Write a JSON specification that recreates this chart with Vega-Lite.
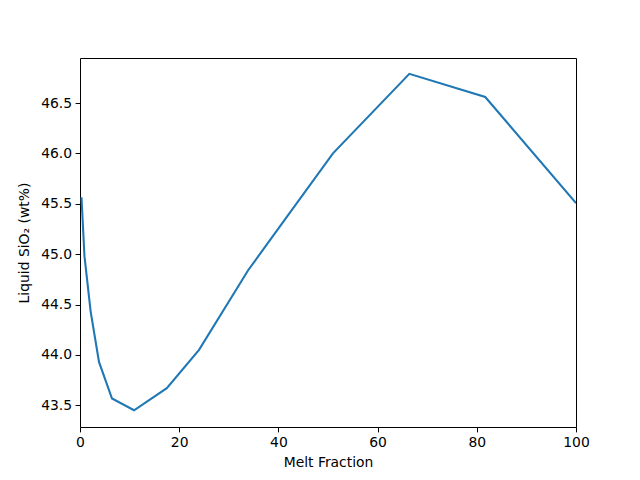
{
  "$schema": "https://vega.github.io/schema/vega-lite/v6.json",
  "width": 496,
  "height": 369,
  "autosize": {"type": "none"},
  "padding": {"left": 80, "top": 58, "right": 64, "bottom": 53},
  "background": "white",
  "config": {
    "font": "DejaVu Sans",
    "view": {"stroke": "black", "strokeWidth": 1},
    "axis": {
      "grid": false,
      "domain": false,
      "tickColor": "black",
      "tickSize": 4.9,
      "tickWidth": 1,
      "labelFont": "DejaVu Sans",
      "labelFontSize": 13.9,
      "labelColor": "black",
      "labelPadding": 3.5,
      "titleFont": "DejaVu Sans",
      "titleFontSize": 13.9,
      "titleFontWeight": "normal",
      "titleColor": "black"
    }
  },
  "data": {
    "values": [
      {"x": 0.3, "y": 45.565},
      {"x": 0.9, "y": 44.98},
      {"x": 2.15, "y": 44.43},
      {"x": 3.83, "y": 43.93},
      {"x": 6.45, "y": 43.567},
      {"x": 10.9, "y": 43.45},
      {"x": 17.5, "y": 43.67},
      {"x": 24.0, "y": 44.05},
      {"x": 33.9, "y": 44.84},
      {"x": 41.7, "y": 45.37},
      {"x": 51.0, "y": 46.0},
      {"x": 66.4, "y": 46.79},
      {"x": 81.7, "y": 46.56},
      {"x": 100.0, "y": 45.506}
    ]
  },
  "mark": {"type": "line", "color": "#1f77b4", "strokeWidth": 2.08, "clip": true},
  "encoding": {
    "x": {
      "field": "x", "type": "quantitative",
      "scale": {"domain": [0, 100], "nice": false, "zero": false},
      "axis": {"values": [0, 20, 40, 60, 80, 100], "title": "Melt Fraction", "titlePadding": 6, "labelFlush": false}
    },
    "y": {
      "field": "y", "type": "quantitative",
      "scale": {"domain": [43.284, 46.947], "nice": false, "zero": false},
      "axis": {"values": [43.5, 44.0, 44.5, 45.0, 45.5, 46.0, 46.5], "format": ".1f", "title": "Liquid SiO₂ (wt%)", "titlePadding": 9}
    }
  }
}
